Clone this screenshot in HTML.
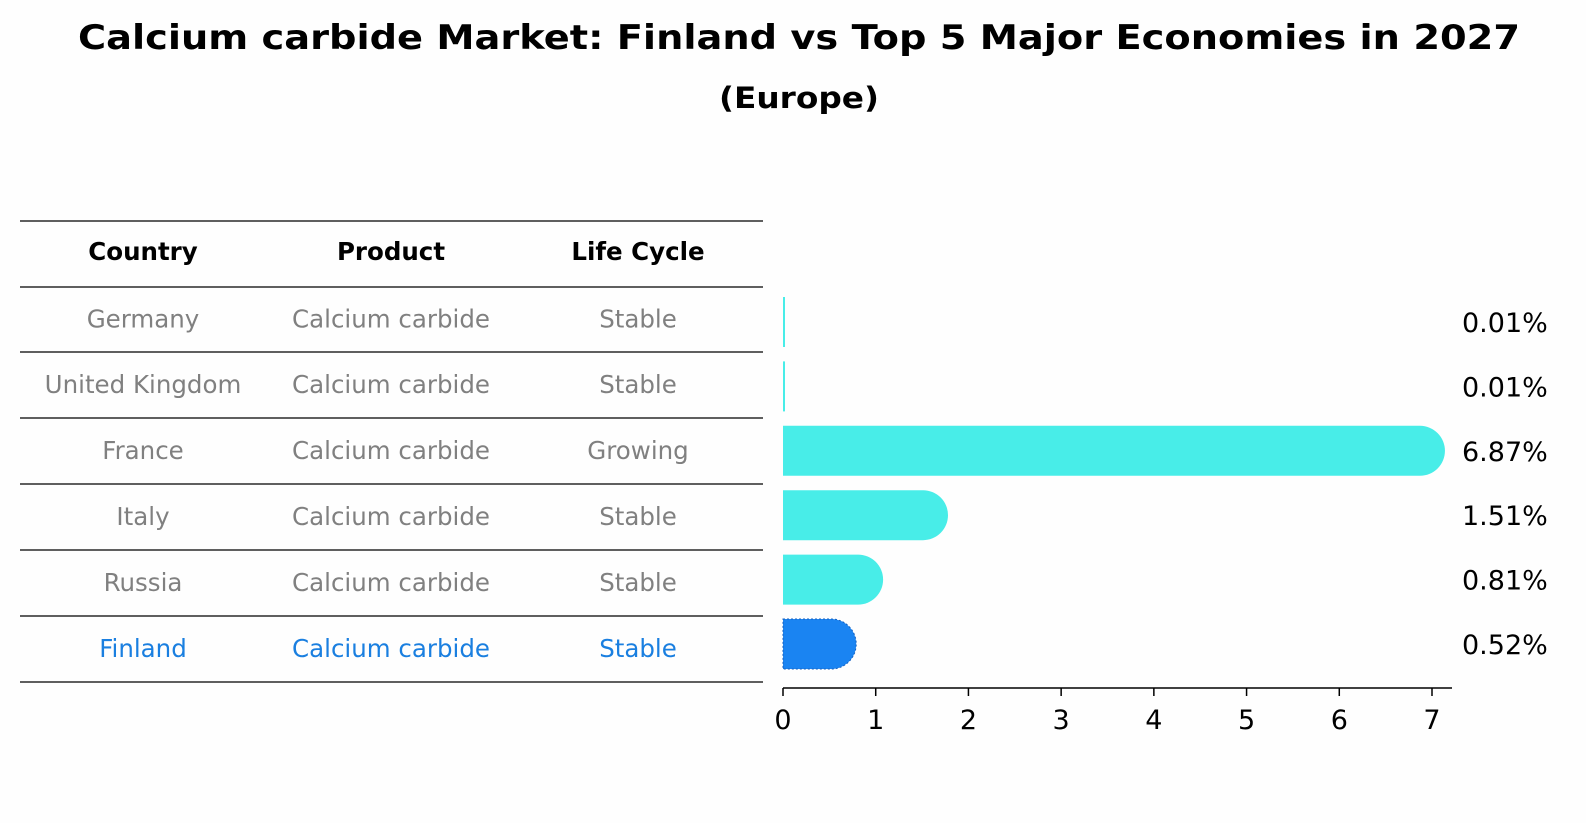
<!DOCTYPE html>
<html><head><meta charset="utf-8"><style>
body{margin:0;background:#fefefe;font-family:"DejaVu Sans","Liberation Sans",sans-serif;}
#root{position:relative;width:1586px;height:823px;overflow:hidden;}
</style></head><body>
<div id="root">
<svg width="1586" height="823" font-family="DejaVu Sans, Liberation Sans, sans-serif">
<text x="799" y="49" text-anchor="middle" font-size="34" font-weight="bold" textLength="1442" lengthAdjust="spacingAndGlyphs">Calcium carbide Market: Finland vs Top 5 Major Economies in 2027</text>
<text x="799" y="108" text-anchor="middle" font-size="29" font-weight="bold" textLength="160" lengthAdjust="spacingAndGlyphs">(Europe)</text>
<g id="table"></g>
<g id="bars"></g>
</svg>
</div>
<script>
const countries=["Germany","United Kingdom","France","Italy","Russia","Finland"];
const products=["Calcium carbide","Calcium carbide","Calcium carbide","Calcium carbide","Calcium carbide","Calcium carbide"];
const lifeCycles=["Stable","Stable","Growing","Stable","Stable","Stable"];
const values=[0.01,0.01,6.87,1.51,0.81,0.52];
const valueLabels=["0.01%","0.01%","6.87%","1.51%","0.81%","0.52%"];
const ticks=[0,1,2,3,4,5,6,7];

const NS="http://www.w3.org/2000/svg";
function mk(tag,attrs,parent,text){const e=document.createElementNS(NS,tag);for(const k in attrs)e.setAttribute(k,attrs[k]);if(text!==undefined)e.textContent=text;parent.appendChild(e);return e;}
const tbl=document.getElementById('table');
const colX=[143,391,638];
const lineY=[221,287,352,418,484,550,616,682];
lineY.forEach(y=>{const l=mk('line',{x1:20,x2:763,y1:y,y2:y,stroke:'#000','stroke-width':1.2},tbl);

});
["Country","Product","Life Cycle"].forEach((h,i)=>{const t=mk('text',{x:colX[i],y:260,'text-anchor':'middle','font-size':24.5,'font-weight':'bold'},tbl,h);

});
countries.forEach((c,r)=>{const y=(lineY[r+1]+lineY[r+2])/2+8;const col=r===5?'#1a7fe0':'#808080';
[c,products[r],lifeCycles[r]].forEach((v,i)=>{const t=mk('text',{x:colX[i],y:y,'text-anchor':'middle','font-size':24.5,fill:col},tbl,v);

});});

const g=document.getElementById('bars');
const x0=783,pxPer=(1432-783)/7;
const xs=v=>x0+v*pxPer;
const rowY=r=>322+r*64.4;
const bh=50,rad=25;
values.forEach((v,r)=>{const cy=rowY(r),x1=xs(v);const col=r===5?'#1a84f2':'#48ede8';
const w=x1-x0;let d;
if(w<1){d=`M${x0},${cy-bh/2}h2v${bh}h-2z`;}
else d=`M${x0},${cy-bh/2}H${x1}A${rad},${rad} 0 0 1 ${x1},${cy+bh/2}H${x0}Z`;
const p=mk('path',{d:d,fill:col},g);
if(r===5){p.setAttribute('stroke','#1560c0');p.setAttribute('stroke-dasharray','2,2');p.setAttribute('stroke-width','1');}


const t=mk('text',{x:1462,y:cy+10,'font-size':27},g,valueLabels[r]);

});
const ax=mk('line',{x1:x0,x2:1452,y1:688,y2:688,stroke:'#000','stroke-width':1.5},g);


ticks.forEach(tk=>{const x=xs(tk);
const l=mk('line',{x1:x,x2:x,y1:688,y2:696,stroke:'#000','stroke-width':1.5},g);


const t=mk('text',{x:x,y:729,'text-anchor':'middle','font-size':27},g,String(tk));

});
</script>
</body></html>
